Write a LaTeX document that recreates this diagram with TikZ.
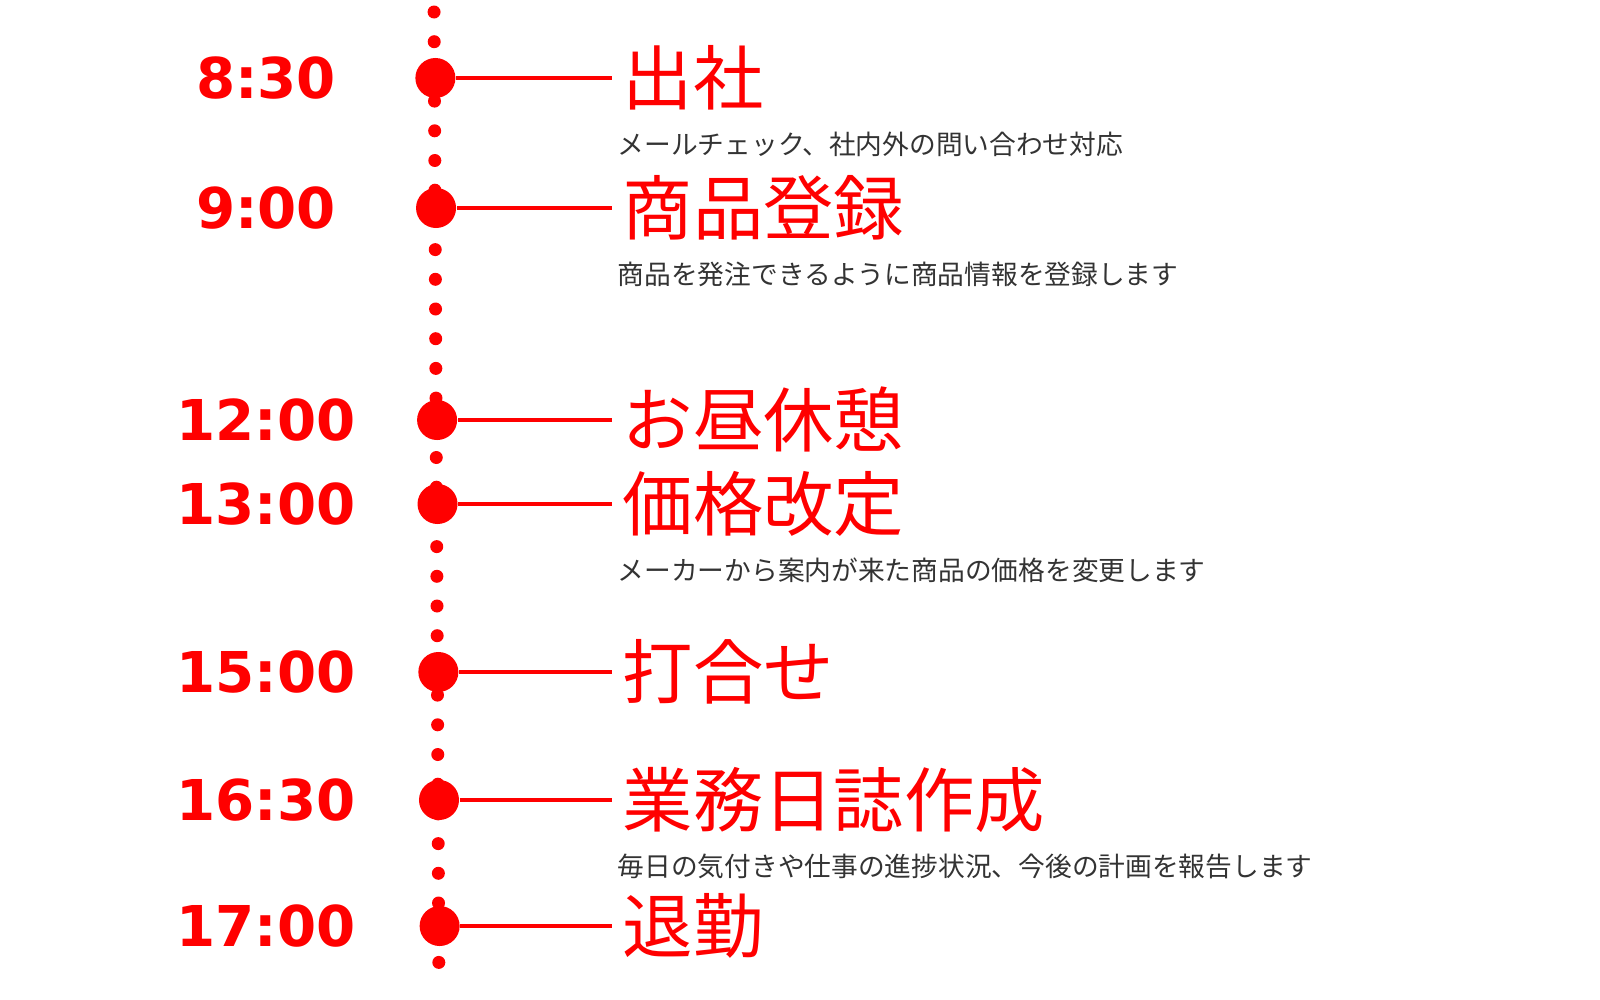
\documentclass[tikz,border=0pt]{standalone}
\usepackage{fontspec}
\newfontfamily\cjk{Noto Sans CJK JP}
\newfontfamily\timefont{DejaVu Sans}
\definecolor{tred}{RGB}{255,0,0}
\begin{document}
\begin{tikzpicture}[x=0.01cm,y=-0.01cm,
  timelbl/.style={text=tred,font=\timefont\bfseries\fontsize{16}{16}\selectfont,anchor=base},
  title/.style={text=tred,font=\cjk\fontsize{20}{20}\selectfont,anchor=base west,inner sep=0},
  sub/.style={text=black!80,font=\cjk\fontsize{7.6}{7.6}\selectfont,anchor=base west,inner sep=0},
  bigdot/.style={circle,fill=tred,minimum size=0.4cm,inner sep=0},
  conn/.style={draw=tred,line width=0.9pt}]
\useasboundingbox (0,0) rectangle (1600,1000);
\foreach \k in {0,...,32}{
  \pgfmathsetmacro{\yy}{12+29.7*\k}
  \pgfmathsetmacro{\xx}{434+\yy*0.005}
  \fill[tred] (\xx,\yy) circle (6.5);
}
\foreach \n/\y/\t/\tt/\s in {
  a/78/8:30/出社/メールチェック、社内外の問い合わせ対応,
  b/208/9:00/商品登録/商品を発注できるように商品情報を登録します,
  c/420/12:00/お昼休憩/,
  d/504/13:00/価格改定/メーカーから案内が来た商品の価格を変更します,
  e/672/15:00/打合せ/,
  f/800/16:30/業務日誌作成/毎日の気付きや仕事の進捗状況、今後の計画を報告します,
  g/926/17:00/退勤/}{
  \pgfmathsetmacro{\xx}{435+\y*0.005}
  \node[bigdot] (dot\n) at (\xx,\y) {};
  \coordinate (end\n) at (612,\y);
  \draw[conn] (dot\n) -- (end\n);
  \node[timelbl] (time\n) at (266,\y+20) {\t};
  \node[title] (title\n) at (622,\y+26) {\tt};
  \node[sub] (sub\n) at (617,\y+76) {\s};
}
\end{tikzpicture}
\end{document}
